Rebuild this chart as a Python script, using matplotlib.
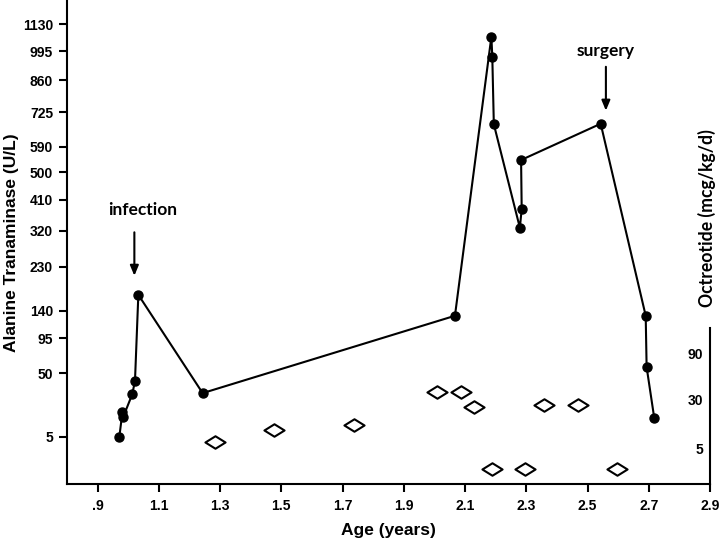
import numpy as np
import matplotlib
matplotlib.use('Agg')
import matplotlib.pyplot as plt
from matplotlib.path import Path

# ALT measurements (age in years, U/L)
alt_age = [0.971, 0.981, 0.984, 1.013, 1.022, 1.033, 1.243, 2.067, 2.186, 2.189,
           2.194, 2.279, 2.285, 2.283, 2.543, 2.690, 2.693, 2.718]
alt_val = [5.1, 17, 14.3, 30, 42, 170, 31, 131, 1066, 969,
           676, 329, 382, 542, 678, 131, 57, 13.4]

# Octreotide doses (age in years, mcg/kg/d)
oct_age = [1.283, 1.477, 1.737, 2.007, 2.086, 2.130, 2.187, 2.296, 2.359, 2.470, 2.597]
oct_dose = [7.0, 11.6, 13.8, 36, 36, 24, 0, 0, 25.5, 25.5, 0]

alt_ticks = [5, 50, 95, 140, 230, 320, 410, 500, 590, 725, 860, 995, 1130]
oct_ticks = [5, 30, 90]
age_ticks = [0.9, 1.1, 1.3, 1.5, 1.7, 1.9, 2.1, 2.3, 2.5, 2.7, 2.9]
age_labels = ['.9', '1.1', '1.3', '1.5', '1.7', '1.9', '2.1', '2.3', '2.5', '2.7', '2.9']

events = [('infection', 1.020, 170), ('surgery', 2.560, 678)]

tick_font = dict(family='Liberation Sans', weight='bold', size=10)


def sq_fwd(v):
    v = np.asarray(v, dtype=float)
    return np.sign(v) * np.sqrt(np.abs(v))


def sq_inv(u):
    u = np.asarray(u, dtype=float)
    return np.sign(u) * u ** 2


def lg_fwd(v):
    v = np.asarray(v, dtype=float)
    return np.log(np.maximum(v + 10, 1e-9))


def lg_inv(u):
    return np.exp(np.asarray(u, dtype=float)) - 10


fig = plt.figure(figsize=(7.2, 5.44), dpi=100)
ax = fig.add_axes([67 / 720, 1 - 484 / 544, 643 / 720, 484 / 544])

ax.set_yscale('function', functions=(sq_fwd, sq_inv))
ax.plot(alt_age, alt_val, color='black', lw=1.5, marker='o', ms=6.5, zorder=3)
ax.set_xlim(0.8, 2.9)
ax.set_ylim(-1.79, 1256)
ax.set_yticks(alt_ticks)
ax.set_yticklabels([str(t) for t in alt_ticks], fontdict=tick_font)
ax.set_xticks(age_ticks)
ax.set_xticklabels(age_labels, fontdict=tick_font)
ax.tick_params(axis='both', direction='out', length=6, width=1.5, color='black')
ax.tick_params(axis='y', pad=4)
ax.tick_params(axis='x', pad=5)
for side in ['top', 'right']:
    ax.spines[side].set_visible(False)
for side in ['left', 'bottom']:
    ax.spines[side].set_linewidth(1.5)

# octreotide on a second axis
ax2 = ax.twinx()
ax2.set_yscale('function', functions=(lg_fwd, lg_inv))
diamond = Path([(-1, 0), (0, 0.62), (1, 0), (0, -0.62), (-1, 0)],
               [Path.MOVETO, Path.LINETO, Path.LINETO, Path.LINETO, Path.CLOSEPOLY])
ax2.plot(oct_age, oct_dose, ls='none', marker=diamond, ms=14.5, mfc='white',
         mec='black', mew=1.5, zorder=3)
ax2.set_ylim(-2.64, 113500)
ax2.set_yticks(oct_ticks)
ax2.set_yticklabels([str(t) for t in oct_ticks], fontdict=tick_font)
ax2.tick_params(axis='y', length=0, pad=-5)
for lab in ax2.get_yticklabels():
    lab.set_horizontalalignment('right')
for side in ['top', 'left', 'bottom']:
    ax2.spines[side].set_visible(False)
ax2.spines['right'].set_linewidth(1.5)
ax2.spines['right'].set_bounds(-2.64, 154.7)

# event annotations
for name, age, val in events:
    if name == 'infection':
        tip, tail, txt, dx = 13.7, 45, 61, 5.8
    else:
        tip, tail, txt, dx = 9.4, 41, 52.6, 0
    ax.annotate('', xy=(age, val), xytext=(0, tail), textcoords='offset points',
                arrowprops=dict(arrowstyle='-|>,head_length=0.6,head_width=0.25',
                                color='black', lw=1.5, shrinkA=0, shrinkB=tip))
    ax.annotate(name, xy=(age, val), xytext=(dx, txt), textcoords='offset points',
                ha='center', va='center', family='Lato', weight='bold', fontsize=12.5)

ax.set_xlabel('Age (years)', family='Liberation Sans', weight='bold', fontsize=12.5, labelpad=7)
fig.text(12 / 720, 1 - 243 / 544, 'Alanine Tranaminase (U/L)', rotation=90,
         ha='center', va='center', family='Liberation Sans', weight='bold', fontsize=12.5)
fig.text(707 / 720, 1 - 218 / 544, 'Octreotide (mcg/kg/d)', rotation=90,
         ha='center', va='center', family='Lato', weight='bold', fontsize=12.7)

fig.savefig('out.png', dpi=100)
